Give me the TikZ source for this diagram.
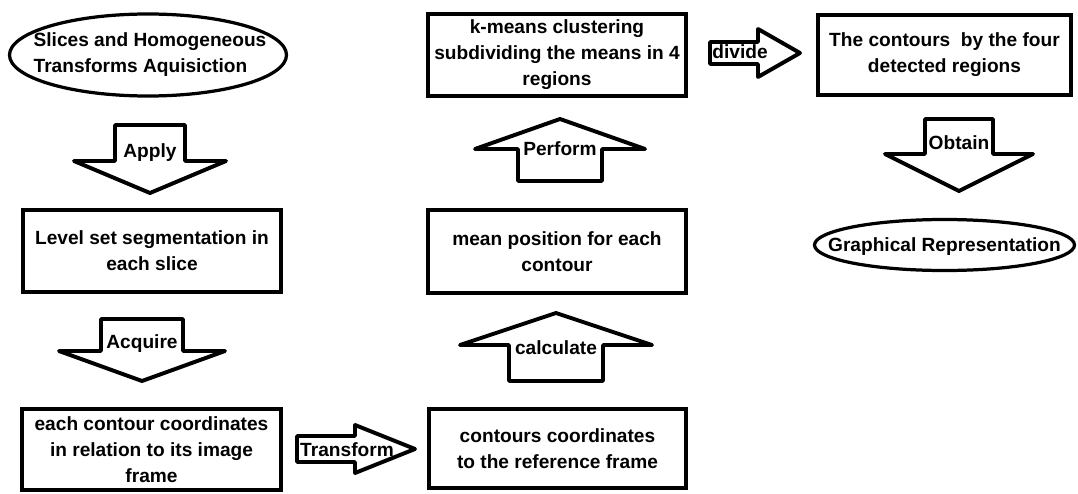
\documentclass[tikz,border=0pt]{standalone}
\usepackage{fontspec}
\setmainfont{Liberation Sans}
\usepackage{xcolor}
\usepackage{tikz}
\definecolor{ink}{HTML}{000000}
\definecolor{paper}{HTML}{FFFFFF}
\newlength{\pxu}
\setlength{\pxu}{0.025cm}
\tikzset{
  stepBox/.style={draw=ink, fill=paper, line width=3.3pt, rectangle, align=center, inner sep=2pt},
  endOval/.style={draw=ink, fill=paper, line width=2.3pt},
  blockArrow/.style={draw=ink, fill=paper, line width=2.8pt, line join=round},
  boxTxt/.style={font=\fontsize{13.6}{18.5}\selectfont\bfseries, text=ink},
  arrowLbl/.style={font=\fontsize{13.6}{18.5}\selectfont\bfseries, text=ink, inner sep=1pt},
}
% vertical block arrow: x centre, tail y, head base y, tip y, shaft half width, head half width
\newcommand{\VArrow}[6]{%
  \draw[blockArrow] (#1-#5,#2) -- (#1+#5,#2) -- (#1+#5,#3) -- (#1+#6,#3)
    -- (#1,#4) -- (#1-#6,#3) -- (#1-#5,#3) -- cycle;
}
% horizontal block arrow: y centre, tail x, head base x, tip x, shaft half width, head half width
\newcommand{\HArrow}[6]{%
  \draw[blockArrow] (#2,#1-#5) -- (#3,#1-#5) -- (#3,#1-#6) -- (#4,#1)
    -- (#3,#1+#6) -- (#3,#1+#5) -- (#2,#1+#5) -- cycle;
}

\begin{document}
\begin{tikzpicture}[x=0.025cm, y=-0.025cm]
  \useasboundingbox (0,0) rectangle (1078,493);

  % left column
  \draw[endOval] (148,55) ellipse [x radius=138.5\pxu, y radius=41\pxu];
  \node[boxTxt, align=left] (acq) at (150,55)
    {Slices and Homogeneous\\Transforms Aquisiction};
  \VArrow{150}{125}{161}{193}{35}{76}
  \node[arrowLbl] (apply) at (150,153) {Apply};

  \node[stepBox, boxTxt, minimum width=258\pxu, minimum height=82\pxu] (lvl) at (152,251)
    {Level set segmentation in\\each slice};
  \VArrow{142}{319}{351}{381}{41}{83}
  \node[arrowLbl] (acquire) at (142,344) {Acquire};

  \node[stepBox, boxTxt, minimum width=259\pxu, minimum height=81\pxu] (img) at (151.5,449.5)
    {each contour coordinates\\in relation to its image\\frame};
  \HArrow{449}{297}{355}{415}{13}{24}
  \node[arrowLbl] (transform) at (347,450) {Transform};

  % middle column
  \node[stepBox, boxTxt, minimum width=257\pxu, minimum height=79\pxu] (ref) at (557.5,448.5)
    {contours coordinates\\to the reference frame};
  \VArrow{556}{381}{345}{313}{47}{96}
  \node[arrowLbl] (calc) at (556,348) {calculate};

  \node[stepBox, boxTxt, minimum width=258\pxu, minimum height=83\pxu] (mean) at (557,251.5)
    {mean position for each\\contour};
  \VArrow{560}{181}{149}{119}{42}{85}
  \node[arrowLbl] (perform) at (560,149) {Perform};

  \node[stepBox, boxTxt, minimum width=258\pxu, minimum height=82\pxu] (kmeans) at (557,55)
    {k-means clustering\\subdividing the means in 4\\regions};
  \HArrow{53}{710}{758}{800}{11}{24}
  \node[arrowLbl] (divide) at (740,52) {divide};

  % right column
  \node[stepBox, boxTxt, minimum width=253\pxu, minimum height=80\pxu] (four) at (944.5,55)
    {The contours\ \ by the four\\detected regions};
  \VArrow{959}{119}{154}{191}{34}{74}
  \node[arrowLbl] (obtain) at (959,143) {Obtain};

  \draw[endOval] (944.5,245) ellipse [x radius=130\pxu, y radius=25.5\pxu];
  \node[boxTxt] (graph) at (944.5,247) {Graphical Representation};
\end{tikzpicture}
\end{document}
